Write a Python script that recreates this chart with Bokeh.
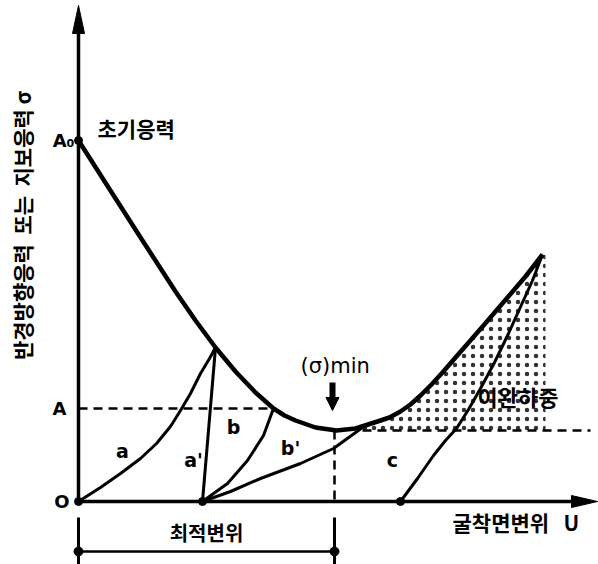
import math

from bokeh.core.properties import value
from bokeh.embed import file_html
from bokeh.models import Arrow, NormalHead, Range1d
from bokeh.plotting import figure
from bokeh.resources import INLINE

# Ground reaction curve: radial stress (or support pressure) vs. wall displacement U
grc_u = [0, 30, 64, 97, 117, 137, 157, 177, 195, 206, 217, 237, 258, 277, 299, 311, 322, 332, 342,
         353, 364, 384, 405, 429, 447, 464]
grc_s = [361, 314, 261, 210, 181, 154, 130, 109, 93, 86, 81, 74, 71, 73, 80, 84, 90, 97, 106,
         117, 129, 152, 176, 204, 225, 247]

# Support characteristic curves
a_u = [0, 22, 42, 62, 78, 92, 102, 112, 122, 131, 137]
a_s = [0, 14, 28, 43, 58, 75, 91, 108, 128, 143, 154]
a2_u = [124, 137]
a2_s = [0, 154]
b_u = [124, 149, 169, 185, 195]
b_s = [0, 18, 41, 66, 93]
b2_u = [124, 152, 182, 222, 255, 284]
b2_s = [0, 10, 23, 38, 53, 74]
c_u = [322, 339, 355, 367, 378, 390, 402, 416, 430, 444, 454, 464]
c_s = [0, 23, 46, 61, 73, 92, 113, 139, 168, 199, 221, 247]

# Reference levels
sigma_0 = 361      # initial stress A0
sigma_A = 93       # level A
sigma_min = 71     # minimum support pressure
u_opt = 256        # optimum displacement
u_loosen_end = 467 # right edge of the loosening-load zone
u_dash_end = 512

curve_labels = ["a", "a'", "b", "b'", "c"]
label_u = [44, 115, 155, 212, 314]
label_s = [51, 42, 75, 54, 42]

FONT = value("Noto Sans CJK KR")
LATIN = value("DejaVu Sans")
NBSP = "\u00a0"

p = figure(width=598, height=564, x_range=Range1d(-78, 520), y_range=Range1d(-63, 501),
           output_backend="svg", toolbar_location=None, min_border=0)
p.axis.visible = False
p.grid.visible = False
p.outline_line_color = None
p.background_fill_color = "white"
p.border_fill_color = "white"

# Loosening-load zone (stippled)
zone_u = [u for u in grc_u if u >= 277] + [u_loosen_end, u_loosen_end, 284]
zone_s = [s for u, s in zip(grc_u, grc_s) if u >= 277] + [grc_s[-1], sigma_min, sigma_min]
p.patch(zone_u, zone_s, fill_alpha=0, line_color=None,
        hatch_pattern=".", hatch_color="black", hatch_scale=9, hatch_weight=1.8, hatch_alpha=0.8)

# Axes with arrowheads
Y_TOP, X_END = 496, 519
p.line([0, 0], [0, Y_TOP - 20], line_width=3.5, color="black")
p.patch([-6, 0, 6], [Y_TOP - 28, Y_TOP, Y_TOP - 28], color="black")
p.line([0, X_END - 20], [0, 0], line_width=3.5, color="black")
p.patch([X_END - 26, X_END, X_END - 26], [6, 0, -6], color="black")

# Dashed reference lines
p.line([0, b_u[-1]], [sigma_A, sigma_A], line_width=2.5, line_dash="9 6", color="black")
p.line([284, u_dash_end], [sigma_min, sigma_min], line_width=2.5, line_dash="9 6", color="black")
p.line([u_opt, u_opt], [sigma_min, 0], line_width=2.5, line_dash="9 6", color="black")

# Curves
p.line(grc_u, grc_s, line_width=4.5, color="black", line_join="round")
for xs, ys in [(a_u, a_s), (a2_u, a2_s), (b_u, b_s), (b2_u, b2_s), (c_u, c_s)]:
    p.line(xs, ys, line_width=3, color="black", line_join="round")

p.scatter([0, a2_u[0], c_u[0], 0], [0, 0, 0, sigma_0], size=8, color="black")

# Optimum displacement bracket
p.line([0, 0], [-16, -63], line_width=3, color="black")
p.line([u_opt, u_opt], [-16, -63], line_width=3, color="black")
p.line([0, u_opt], [-50, -50], line_width=2.5, color="black")
p.scatter([0, u_opt], [-50, -50], size=9, color="black")

# Arrow marking the minimum
p.add_layout(Arrow(end=NormalHead(size=13, fill_color="black", line_color="black"),
                   x_start=u_opt - 2, y_start=sigma_min + 48, x_end=u_opt - 2, y_end=sigma_min + 20,
                   line_width=6, line_color="black"))

# Text
p.text(label_u, label_s, text=curve_labels, text_font=LATIN, text_font_size="19px",
       text_font_style="bold", text_align="center", text_baseline="middle")
p.text([-4], [sigma_0], text=["A₀"], text_font=LATIN, text_font_size="18px",
       text_font_style="bold", text_align="right", text_baseline="middle")
p.text([-12], [sigma_A], text=["A"], text_font=LATIN, text_font_size="18px",
       text_font_style="bold", text_align="right", text_baseline="middle")
p.text([-9], [0], text=["O"], text_font=LATIN, text_font_size="18px",
       text_font_style="bold", text_align="right", text_baseline="middle")
p.text([222], [136], text=["(σ)min"], text_font=LATIN, text_font_size="21px",
       text_align="left", text_baseline="middle")

p.text([19], [374], text=["초기응력"], text_font=FONT, text_font_size="21px",
       text_font_style="bold", text_align="left", text_baseline="middle")
p.text([399], [106], text=["이완하중"], text_font=FONT, text_font_size="22px",
       text_font_style="bold", text_align="left", text_baseline="middle")
p.text([374], [-20], text=["굴착면변위" + NBSP * 3 + "U"], text_font=FONT, text_font_size="21px",
       text_font_style="bold", text_align="left", text_baseline="middle")
p.text([128], [-31], text=["최적변위"], text_font=FONT, text_font_size="20px",
       text_font_style="bold", text_align="center", text_baseline="middle")
p.text([-57], [276], text=["반경방향응력" + NBSP * 2 + "또는" + NBSP * 2 + "지보응력" + NBSP + "σ"],
       angle=math.pi / 2, text_font=FONT, text_font_size="21px", text_font_style="bold",
       text_align="center", text_baseline="middle")

open("out.html", "w").write(file_html(p, INLINE))
